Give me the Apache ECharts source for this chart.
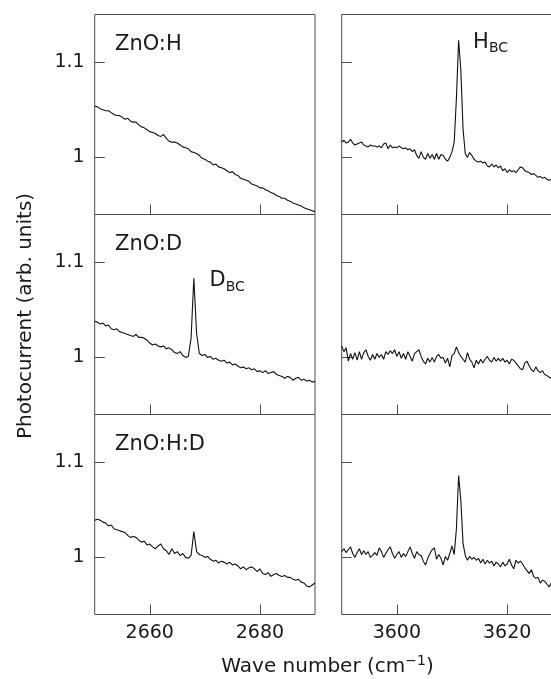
<!DOCTYPE html>
<html><head><meta charset="utf-8">
<script src="https://cdn.jsdelivr.net/npm/echarts@6/dist/echarts.min.js"></script>
<style>html,body{margin:0;padding:0;background:#fff}#c{width:551px;height:679px}</style>
</head><body><div id="c"></div>
<script>
// ---- sampling of the wave-number axes ----
const leftStart = 2650, leftStep = 0.5;
const rightStart = 3590, rightStep = 0.4;
const leftRange = [2650, 2690];
const rightRange = [3590, 3630];
const yRange = [0.94, 1.15];

// ---- tick values ----
const yTickValues = [1, 1.1];
const leftXTicks = [2660, 2680];
const rightXTicks = [3600, 3620];

// ---- panel texts ----
const panelLabels = ['ZnO:H', 'ZnO:D', 'ZnO:H:D'];
const yTitle = 'Photocurrent (arb. units)';

// ---- series values (photocurrent) ----
const znoH_left = [
 1.054,1.053,1.051,1.050,1.049,1.049,1.047,1.045,1.044,1.044,
 1.042,1.040,1.041,1.038,1.037,1.037,1.034,1.032,1.031,1.029,
 1.027,1.026,1.025,1.023,1.022,1.024,1.020,1.017,1.016,1.016,
 1.015,1.013,1.011,1.010,1.009,1.006,1.005,1.004,1.002,0.999,
 0.998,0.996,0.995,0.992,0.993,0.990,0.989,0.988,0.986,0.984,
 0.985,0.982,0.981,0.978,0.977,0.976,0.975,0.972,0.971,0.970,
 0.968,0.968,0.966,0.965,0.963,0.962,0.960,0.959,0.957,0.957,
 0.955,0.954,0.952,0.951,0.950,0.949,0.947,0.946,0.945,0.944,
 0.943];
const znoH_right = [
 1.016,1.018,1.015,1.016,1.019,1.015,1.013,1.014,1.015,1.016,
 1.013,1.012,1.011,1.013,1.012,1.012,1.011,1.012,1.010,1.014,
 1.015,1.009,1.013,1.010,1.011,1.010,1.012,1.010,1.009,1.010,
 1.008,1.009,1.006,1.008,1.002,0.999,1.006,1.000,0.998,1.004,
 0.999,1.003,0.998,1.004,0.998,1.003,1.002,0.998,0.996,1.000,
 1.006,1.016,1.062,1.123,1.092,1.030,1.004,1.000,1.005,1.002,
 0.998,0.996,0.995,0.996,0.994,0.995,0.991,0.990,0.993,0.990,
 0.992,0.989,0.991,0.986,0.988,0.984,0.987,0.985,0.986,0.984,
 0.987,0.990,0.989,0.986,0.985,0.984,0.982,0.983,0.981,0.979,
 0.980,0.978,0.979,0.977,0.976,0.977,0.976];
const znoD_left = [
 1.038,1.037,1.035,1.036,1.033,1.034,1.030,1.029,1.030,1.027,
 1.026,1.025,1.024,1.023,1.022,1.024,1.021,1.021,1.020,1.018,
 1.015,1.013,1.014,1.012,1.011,1.012,1.009,1.010,1.008,1.005,
 1.004,1.006,1.002,1.000,1.001,1.020,1.083,1.025,1.004,1.002,
 1.003,1.000,1.001,0.998,0.999,0.997,0.996,0.997,0.994,0.995,
 0.992,0.993,0.991,0.989,0.990,0.988,0.989,0.987,0.988,0.985,
 0.986,0.984,0.986,0.983,0.984,0.985,0.982,0.981,0.980,0.978,
 0.980,0.979,0.976,0.978,0.979,0.976,0.977,0.975,0.976,0.974,
 0.975];
const znoD_right = [
 1.012,1.006,1.010,0.996,1.004,0.998,1.005,0.997,1.006,0.998,
 1.005,1.008,1.001,0.997,1.003,0.998,1.004,1.000,1.003,0.998,
 1.006,1.003,1.007,1.004,1.008,1.001,1.006,0.999,1.004,0.998,
 1.006,1.001,0.996,1.004,1.006,1.008,1.001,0.996,0.993,0.999,
 0.995,1.000,0.995,1.001,1.003,0.999,1.000,0.994,0.999,0.990,
 1.002,1.004,1.011,1.005,1.001,0.998,0.995,1.005,0.998,0.995,
 0.989,0.997,0.993,0.998,0.994,0.998,1.001,0.997,0.995,1.000,
 0.996,0.999,0.996,0.999,0.995,0.997,0.993,0.998,0.997,0.994,
 0.991,0.988,0.987,0.994,0.996,0.991,0.987,0.985,0.990,0.986,
 0.984,0.986,0.982,0.981,0.979,0.978,0.976];
const znoHD_left = [
 1.039,1.040,1.039,1.037,1.036,1.033,1.034,1.030,1.029,1.028,
 1.027,1.026,1.023,1.021,1.022,1.021,1.018,1.016,1.017,1.013,
 1.014,1.011,1.009,1.012,1.014,1.009,1.007,1.003,1.009,1.004,
 1.006,1.002,1.004,1.000,0.999,1.002,1.027,1.006,1.003,1.002,
 1.000,1.001,0.998,0.996,0.997,0.994,0.996,0.995,0.993,0.995,
 0.992,0.993,0.991,0.988,0.990,0.987,0.989,0.990,0.988,0.985,
 0.988,0.983,0.982,0.984,0.980,0.982,0.983,0.981,0.980,0.981,
 0.979,0.979,0.977,0.976,0.977,0.974,0.973,0.970,0.969,0.971,
 0.973];
const znoHD_right = [
 1.006,1.009,1.005,1.008,1.011,1.004,1.000,1.005,1.009,1.003,
 1.007,1.003,1.006,1.000,1.002,1.005,1.002,1.010,1.006,1.000,
 1.004,1.008,1.011,1.004,0.999,1.003,1.006,1.000,1.004,1.001,
 1.006,1.011,1.004,0.999,1.006,1.003,1.002,0.996,0.992,0.999,
 1.004,1.008,1.010,0.998,1.003,0.999,0.992,1.001,0.997,1.004,
 1.012,1.003,1.030,1.086,1.060,1.015,1.002,0.997,1.001,0.998,
 1.000,0.997,0.999,0.994,0.998,0.993,0.997,0.994,0.996,0.991,
 0.995,0.993,0.990,0.995,0.991,0.993,0.998,0.992,0.988,0.997,
 0.994,0.996,0.993,0.989,0.986,0.983,0.987,0.980,0.978,0.979,
 0.973,0.976,0.975,0.972,0.969,0.973,0.971];

// ---- build ----
const FONT = 'DejaVu Sans';
const TXT = '#1a1a1a';
const AX = '#4d4d4d';
const leftSeries = [znoH_left, znoD_left, znoHD_left];
const rightSeries = [znoH_right, znoD_right, znoHD_right];
const tops = [14.5, 214.5, 414.5];
const panelH = 200;

function pairs(start, step, arr) {
  return arr.map((v, i) => [Math.round((start + step * i) * 100) / 100, v]);
}

const grid = [], xAxis = [], yAxis = [], series = [];
for (let r = 0; r < 3; r++) {
  for (let c = 0; c < 2; c++) {
    const gi = grid.length;
    grid.push({
      left: c === 0 ? 94.7 : 341.7,
      top: tops[r],
      width: c === 0 ? 220.3 : 220.6,
      height: panelH,
      show: true, borderColor: AX, borderWidth: 1,
      backgroundColor: 'transparent',
      containLabel: false, outerBoundsMode: 'none'
    });
    const xr = c === 0 ? leftRange : rightRange;
    const xt = c === 0 ? leftXTicks : rightXTicks;
    xAxis.push({
      type: 'value', gridIndex: gi, min: xr[0], max: xr[1],
      axisLine: { show: false },
      splitLine: { show: false },
      axisTick: { show: true, inside: true, length: 10, customValues: xt, lineStyle: { color: AX, width: 1 } },
      axisLabel: { show: r === 2, customValues: xt, formatter: v => String(v),
        fontSize: 19, fontFamily: FONT, color: TXT, margin: 9 }
    });
    yAxis.push({
      type: 'value', gridIndex: gi, min: yRange[0], max: yRange[1],
      axisLine: { show: false },
      splitLine: { show: false },
      axisTick: { show: true, inside: true, length: 10, customValues: yTickValues, lineStyle: { color: AX, width: 1 } },
      axisLabel: { show: c === 0, customValues: yTickValues, formatter: v => String(v),
        fontSize: 19, fontFamily: FONT, color: TXT, margin: 10 }
    });
    const data = c === 0 ? pairs(leftStart, leftStep, leftSeries[r]) : pairs(rightStart, rightStep, rightSeries[r]);
    series.push({
      type: 'line', xAxisIndex: gi, yAxisIndex: gi, data,
      showSymbol: false, symbol: 'none', smooth: false, clip: true,
      lineStyle: { color: '#111', width: 1.1 }, silent: true
    });
  }
}

const labelMid = [44.4, 244.4, 444.4];
const graphic = [];
panelLabels.forEach((t, i) => {
  graphic.push({ type: 'text', x: 115, y: labelMid[i],
    style: { text: t, fontSize: 21, fontFamily: FONT, fill: TXT, align: 'left', verticalAlign: 'middle' } });
});
// peak annotations
graphic.push({ type: 'text', x: 473, y: 42.7, style: { text: 'H', fontSize: 21, fontFamily: FONT, fill: TXT, align: 'left', verticalAlign: 'middle' } });
graphic.push({ type: 'text', x: 489, y: 48.5, style: { text: 'BC', fontSize: 14, fontFamily: FONT, fill: TXT, align: 'left', verticalAlign: 'middle' } });
graphic.push({ type: 'text', x: 209.5, y: 281, style: { text: 'D', fontSize: 21, fontFamily: FONT, fill: TXT, align: 'left', verticalAlign: 'middle' } });
graphic.push({ type: 'text', x: 225.7, y: 286.9, style: { text: 'BC', fontSize: 14, fontFamily: FONT, fill: TXT, align: 'left', verticalAlign: 'middle' } });
// axis titles
graphic.push({ type: 'text', x: 26, y: 316, rotation: Math.PI / 2,
  style: { text: yTitle, fontSize: 20, fontFamily: FONT, fill: TXT, align: 'center', verticalAlign: 'middle' } });
graphic.push({ type: 'text', x: 327.5, y: 665.5,
  style: { text: '{a|Wave number (cm}{s|\u22121}{a|)}', align: 'center', verticalAlign: 'middle',
    rich: {
      a: { fontSize: 20, fontFamily: FONT, fill: TXT, color: TXT, lineHeight: 22, verticalAlign: 'bottom' },
      s: { fontSize: 14, fontFamily: FONT, fill: TXT, color: TXT, lineHeight: 12, verticalAlign: 'top' }
    } } });

const chart = echarts.init(document.getElementById('c'), null, { renderer: 'canvas' });
chart.setOption({ animation: false, backgroundColor: '#fff', grid, xAxis, yAxis, series, graphic });
</script></body></html>
